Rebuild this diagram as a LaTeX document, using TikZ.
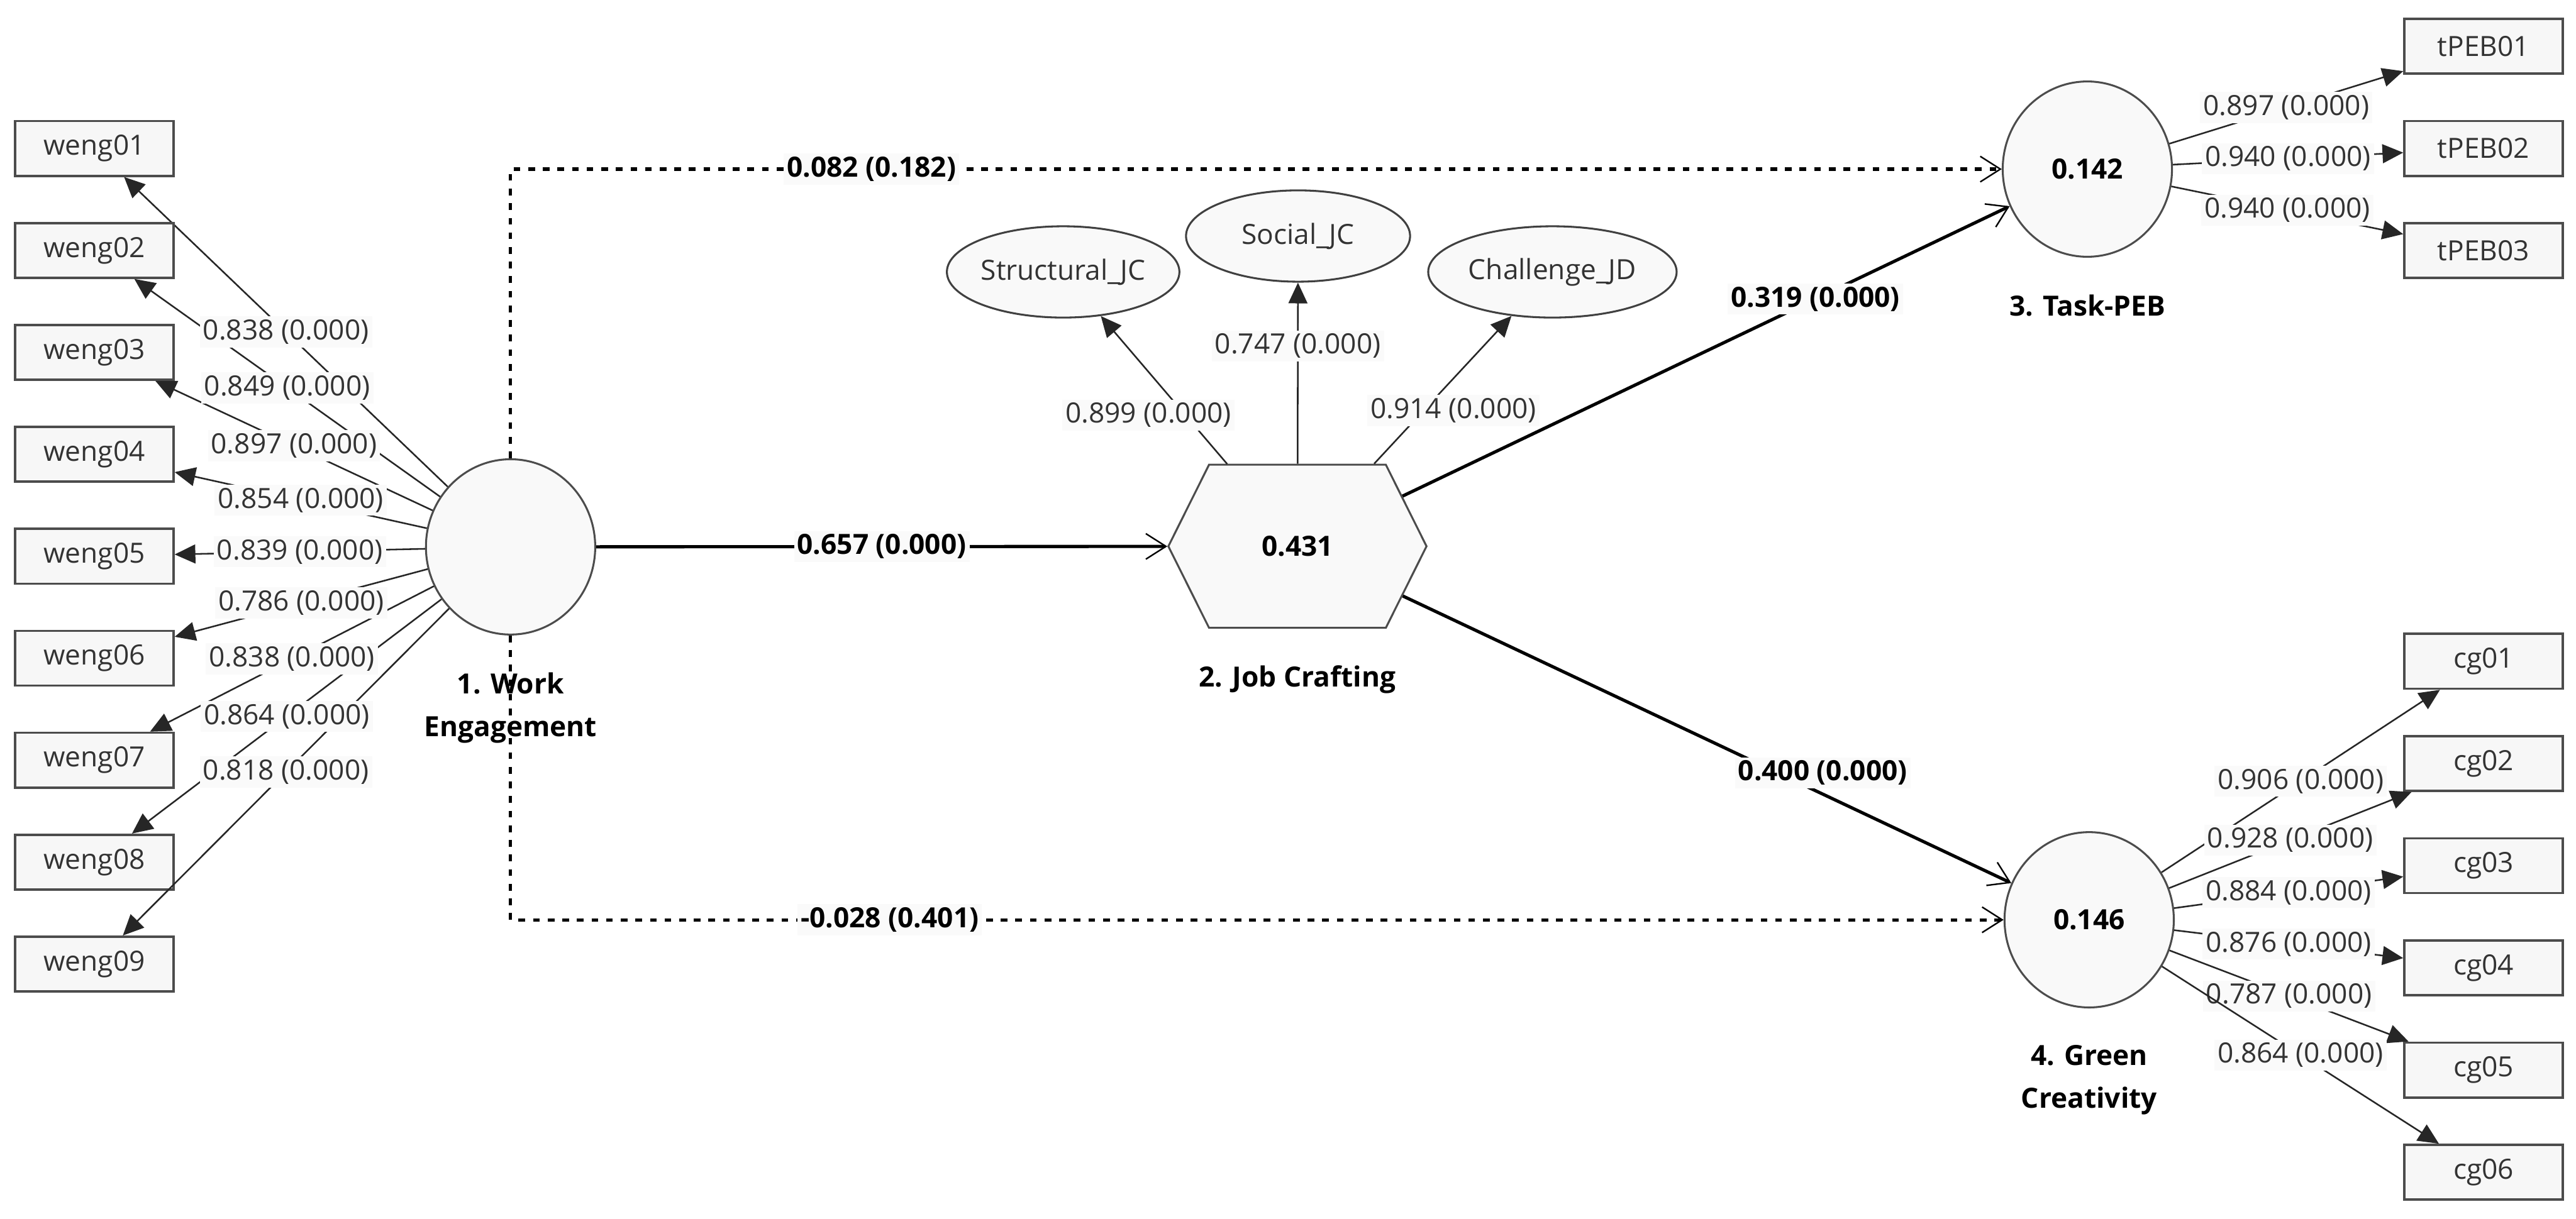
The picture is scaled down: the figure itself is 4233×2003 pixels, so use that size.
\documentclass[tikz,border=0pt]{standalone}
\usepackage{fontspec}
\setmainfont{Open Sans}
\usepackage{tikz}
\usetikzlibrary{arrows.meta,positioning,shapes.geometric,shapes.symbols}
\tikzset{
  every node/.style={font=\fontsize{13}{17}\selectfont},
  ind/.style={draw=black!70, line width=1.1pt, fill=gray!6, minimum width=2.6cm, minimum height=0.9cm, inner sep=0pt, text=black!80},
  lat/.style={ellipse, draw=black!70, line width=0.9pt, fill=gray!5, minimum width=2.78cm, minimum height=2.88cm, inner sep=0pt, font=\fontsize{13}{17}\selectfont\bfseries},
  dim/.style={ellipse, draw=black!75, line width=0.9pt, fill=gray!5, minimum height=1.5cm, inner sep=0pt, text=black!80},
  hexa/.style={signal, signal to=west and east, signal pointer angle=127, draw=black!70, line width=0.9pt, fill=gray!5, minimum width=4.24cm, minimum height=2.68cm, inner sep=0pt, font=\fontsize{13}{17}\selectfont\bfseries},
  conlab/.style={align=center, inner sep=0pt, font=\fontsize{13}{20}\selectfont\bfseries},
  load/.style={fill=gray!4, inner sep=1.5pt, text=black!80},
  coef/.style={fill=gray!4, inner sep=1.5pt, font=\fontsize{13}{17}\selectfont\bfseries},
  ld/.style={draw=black!85, line width=0.75pt, -{Triangle[length=3.4mm,width=3.1mm]}},
  pth/.style={line width=1.5pt, -{Straight Barb[length=3.3mm,width=4.2mm,line width=0.7pt]}},
  dpth/.style={pth, dash pattern=on 1.1mm off 1.3mm},
}
\begin{document}
\begin{tikzpicture}[x=0.01cm, y=-0.01cm]
  \useasboundingbox (0,0) rectangle (4233,2003);
  \node[lat] (we) at (839,899) {};
  \node[hexa] (jc) at (2132,898) {0.431};
  \node[lat] (tp) at (3430,278) {0.142};
  \node[lat] (gc) at (3433,1512) {0.146};
  \node[conlab, below=0.6cm of we] (welab) {1. Work\\Engagement};
  \node[conlab, below=0.6cm of jc] (jclab) {2. Job Crafting};
  \node[conlab, below=0.6cm of tp] (tplab) {3. Task-PEB};
  \node[conlab, below=0.6cm of gc] (gclab) {4. Green\\Creativity};
  \node[dim, minimum width=3.56cm] (sjc) at (1747,447) {Structural\_JC};
  \node[dim, minimum width=3.68cm] (socjc) at (2133,388) {Social\_JC};
  \node[dim, minimum width=4.08cm] (chjd) at (2551,447) {Challenge\_JD};

  \foreach \i in {1,...,9} {
    \node[ind] (weng\i) at (155,{244+167.6*(\i-1)}) {weng0\i};
    \draw[ld] (we) -- (weng\i);
  }
  \foreach \i/\v in {1/0.838,2/0.849,3/0.897,4/0.854,5/0.839,6/0.786,7/0.838,8/0.864,9/0.818}
    \path (we) -- node[load] {\v\ (0.000)} (weng\i);

  \foreach \i/\v in {1/0.897,2/0.940,3/0.940} {
    \node[ind] (tpeb\i) at (4081,{76+168*(\i-1)}) {tPEB0\i};
    \draw[ld] (tp) -- node[load] {\v\ (0.000)} (tpeb\i);
  }
  \foreach \i/\v in {1/0.906,2/0.928,3/0.884,4/0.876,5/0.787,6/0.864} {
    \node[ind] (cg\i) at (4081,{1087+168*(\i-1)}) {cg0\i};
    \draw[ld] (gc) -- node[load] {\v\ (0.000)} (cg\i);
  }

  \draw[ld] (jc) -- node[load, pos=0.33, xshift=-0.61cm] {0.899 (0.000)} (sjc);
  \draw[ld] (jc) -- node[load, pos=0.65] {0.747 (0.000)} (socjc);
  \draw[ld] (jc) -- node[load, pos=0.36, xshift=0.49cm] {0.914 (0.000)} (chjd);

  \draw[pth] (we) -- node[coef] {0.657 (0.000)} (jc);
  \draw[pth] (jc) -- node[coef, pos=0.68] {0.319 (0.000)} (tp);
  \draw[pth] (jc) -- node[coef, pos=0.69, yshift=0.35cm] {0.400 (0.000)} (gc);
  \draw[dpth] (we) |- node[coef, pos=0.621] {0.082 (0.182)} (tp);
  \draw[dpth] (we) |- node[coef, pos=0.627] {-0.028 (0.401)} (gc);
\end{tikzpicture}
\end{document}
